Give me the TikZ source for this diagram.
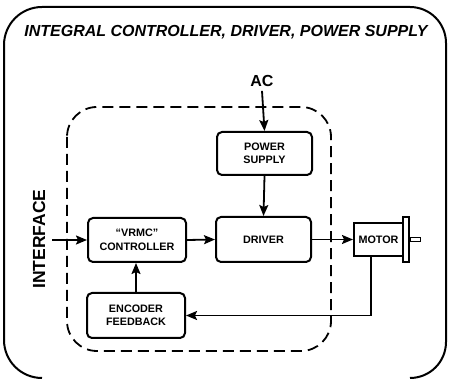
\documentclass[tikz,border=0pt]{standalone}
\usepackage{fontspec}
\setmainfont{Liberation Sans}
\usetikzlibrary{arrows.meta}
\begin{document}
\begin{tikzpicture}[x=1pt,y=-1pt,
  blk/.style={draw, line width=2pt, rounded corners=5pt, align=center, inner sep=0pt,
    font=\fontsize{10.8}{13.5}\selectfont\bfseries},
  conn/.style={line width=1.8pt, -{Stealth[length=11pt,width=9pt,inset=2pt]}},
  lbl/.style={font=\fontsize{16}{18}\selectfont\bfseries, inner sep=0pt}]
\useasboundingbox (0,0) rectangle (450,379);
% outer border (no straight bottom edge)
\draw[line width=2pt] (4,340) -- (4,45) arc[start angle=180,end angle=270,radius=38]
  -- (410,7) arc[start angle=270,end angle=360,radius=36] -- (446,342)
  arc[start angle=0,end angle=90,radius=36];
\draw[line width=2pt] (4,340) arc[start angle=180,end angle=90,radius=38];
\node[lbl, font=\fontsize{16}{18}\selectfont\bfseries\itshape] (title) at (226,32) {INTEGRAL CONTROLLER, DRIVER, POWER SUPPLY};
% inner dashed boundary
\draw[line width=1.8pt, dash pattern=on 11pt off 6pt, rounded corners=30pt] (67,107) rectangle (331,351);
% blocks
\node[blk, minimum width=95pt, minimum height=43pt] (ps) at (264.5,153.5) {POWER\\SUPPLY};
\node[blk, minimum width=95pt, minimum height=45pt] (drv) at (263.5,239.5) {DRIVER};
\node[blk, minimum width=98pt, minimum height=44pt] (ctl) at (137,240) {“VRMC”\\CONTROLLER};
\node[blk, minimum width=98pt, minimum height=45pt] (enc) at (136,315.5) {ENCODER\\FEEDBACK};
\node[blk, rounded corners=0pt, minimum width=49pt, minimum height=33pt] (motor) at (378.5,239.5) {MOTOR};
\node[draw, line width=1.8pt, inner sep=0pt, minimum width=6pt, minimum height=45pt] (flange) at (406,239.5) {};
\node[draw, line width=1.4pt, inner sep=0pt, minimum width=10pt, minimum height=4pt, anchor=west] (shaft) at (flange.east) {};
% labels
\node[lbl] (ac) at (262,81) {AC};
\node[lbl, font=\fontsize{17.5}{18}\selectfont\bfseries, rotate=90] (intf) at (39,239) {INTERFACE};
\coordinate (inp) at (52,240);
% connectors
\draw[conn] (ac.south) ++(0,4) coordinate (acs) -- (ps.north);
\draw[conn] (ps.south) -- (drv.north);
\draw[conn] (inp) -- (ctl.west);
\draw[conn] (ctl.east) -- (drv.west);
\draw[conn] (drv.east) -- (motor.west);
\draw[conn] (enc.north) -- (ctl.south -| enc.north);
\draw[conn] ([xshift=-7.5pt]motor.south) |- (enc.east);
\end{tikzpicture}
\end{document}
